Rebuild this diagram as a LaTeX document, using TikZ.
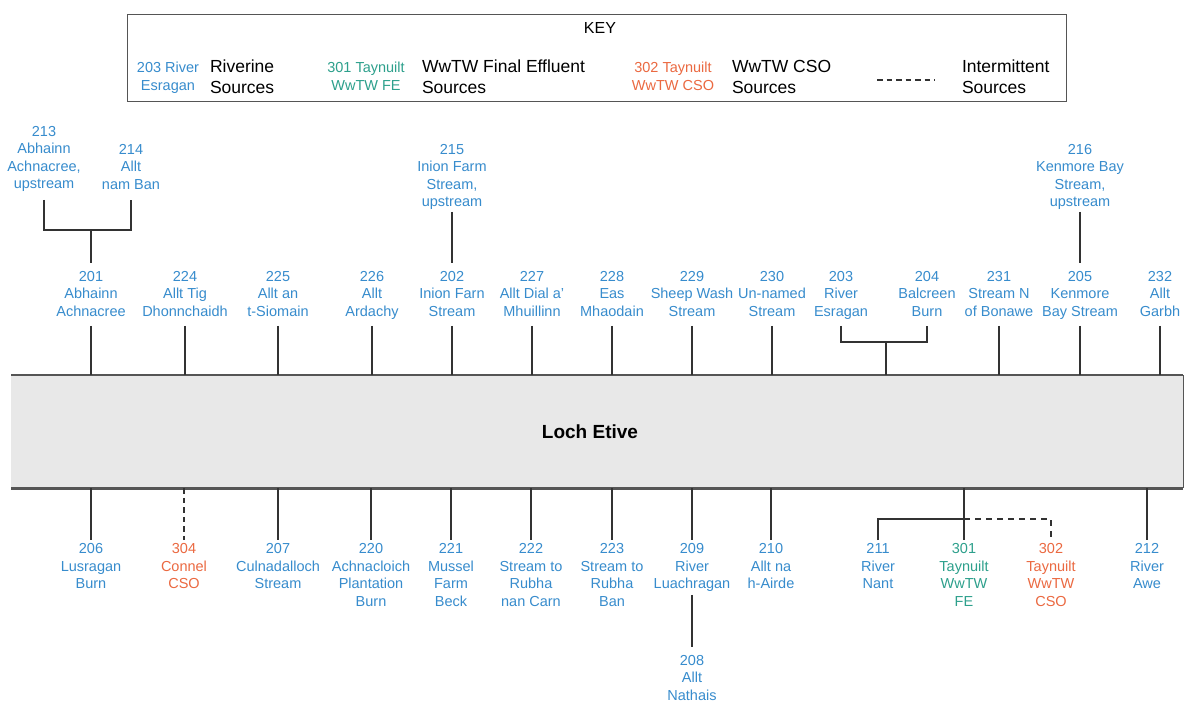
\documentclass[tikz,border=0pt]{standalone}
\usepackage{fontspec}
\setmainfont{Liberation Sans}
\definecolor{srcblue}{RGB}{55,140,205}
\definecolor{srcteal}{RGB}{45,160,140}
\definecolor{srcorange}{RGB}{235,105,65}
\definecolor{linegray}{RGB}{50,50,50}
\definecolor{lochfill}{RGB}{232,232,232}
\definecolor{lochedge}{RGB}{85,85,85}
\begin{document}
\begin{tikzpicture}[x=1pt,y=-1pt,
  lbl/.style={inner sep=0pt, outer sep=0pt, align=center, anchor=north, text=srcblue,
    font=\fontsize{14.5}{17.5}\selectfont,
    execute at begin node=\strut, execute at end node=\strut},
  cso/.style={lbl, text=srcorange},
  fe/.style={lbl, text=srcteal},
  keysrc/.style={inner sep=0pt, outer sep=0pt, align=center, anchor=north,
    font=\fontsize{14.5}{18}\selectfont,
    execute at begin node=\strut, execute at end node=\strut},
  keytxt/.style={inner sep=0pt, outer sep=0pt, align=left, anchor=north west, text=black,
    font=\fontsize{17.5}{21}\selectfont,
    execute at begin node=\strut, execute at end node=\strut},
  conn/.style={draw=linegray, line width=1.5pt},
  intermittent/.style={conn, dash pattern=on 5.5pt off 4pt},
]
\useasboundingbox[fill=white] (0,0) rectangle (1184,704);

% ---------------- KEY ----------------
\node[draw=lochedge, line width=1.3pt, minimum width=939pt, minimum height=87pt, inner sep=0pt,
  anchor=north west] (keybox) at (127,14) {};
\node[inner sep=0pt, font=\fontsize{16}{19}\selectfont] (keytitle) at (600,28) {KEY};
\node[keysrc, text=srcblue] (k203) at (168,62.4) {203 River\\Esragan};
\node[keytxt] (kriv) at (210,60.3) {Riverine\\Sources};
\node[keysrc, text=srcteal] (k301) at (366,62.4) {301 Taynuilt\\WwTW FE};
\node[keytxt] (kfe) at (422,60.3) {WwTW Final Effluent\\Sources};
\node[keysrc, text=srcorange] (k302) at (673,62.4) {302 Taynuilt\\WwTW CSO};
\node[keytxt] (kcso) at (732,60.3) {WwTW CSO\\Sources};
\coordinate (kdashA) at (877,80);
\coordinate (kdashB) at (935,80);
\draw[intermittent, line width=1.3pt] (kdashA) -- (kdashB);
\node[keytxt] (kint) at (962,60.3) {Intermittent\\Sources};

% ---------------- LOCH ----------------
\node[fill=lochfill, draw=none, inner sep=0pt, minimum width=1172pt, minimum height=113pt,
  anchor=north west] (loch) at (11,375) {};
\draw[draw=lochedge, line width=2.2pt] (loch.north west) -- (loch.north east);
\draw[draw=lochedge, line width=2.2pt] (loch.south west) -- (loch.south east);
\draw[draw=lochedge, line width=1pt] (loch.north east) -- (loch.south east);
\node[inner sep=0pt, font=\fontsize{19}{22}\selectfont\bfseries] (lochname) at (590,432) {Loch Etive};

% ---------------- TOP ROW ----------------
\node[lbl] (n201) at (91,271)   {201\\Abhainn\\Achnacree};
\node[lbl] (n224) at (185,271)  {224\\Allt Tig\\Dhonnchaidh};
\node[lbl] (n225) at (278,271)  {225\\Allt an\\t-Siomain};
\node[lbl] (n226) at (372,271)  {226\\Allt\\Ardachy};
\node[lbl] (n202) at (452,271)  {202\\Inion Farn\\Stream};
\node[lbl] (n227) at (532,271)  {227\\Allt Dial a'\\Mhuillinn};
\node[lbl] (n228) at (612,271)  {228\\Eas\\Mhaodain};
\node[lbl] (n229) at (692,271)  {229\\Sheep Wash\\Stream};
\node[lbl] (n230) at (772,271)  {230\\Un-named\\Stream};
\node[lbl] (n203) at (841,271)  {203\\River\\Esragan};
\node[lbl] (n204) at (927,271)  {204\\Balcreen\\Burn};
\node[lbl] (n231) at (999,271)  {231\\Stream N\\of Bonawe};
\node[lbl] (n205) at (1080,271) {205\\Kenmore\\Bay Stream};
\node[lbl] (n232) at (1160,271) {232\\Allt\\Garbh};

\foreach \n in {201,224,225,226,202,227,228,229,230,231,205,232}{
  \draw[conn, shorten <=4.5pt] (n\n.south) -- (n\n.south |- loch.north);
}
\coordinate (j34) at (886,342);
\draw[conn, shorten <=4.5pt, shorten >=4.5pt] (n203.south) -- (n203.south |- j34) -- (n204.south |- j34) -- (n204.south);
\draw[conn] (j34) -- (j34 |- loch.north);

% ---------------- UPSTREAM ROW ----------------
\node[lbl] (n213) at (44,126)   {213\\Abhainn\\Achnacree,\\upstream};
\node[lbl] (n214) at (131,144)  {214\\Allt\\nam Ban};
\node[lbl] (n215) at (452,144)  {215\\Inion Farm\\Stream,\\upstream};
\node[lbl] (n216) at (1080,144) {216\\Kenmore Bay\\Stream,\\upstream};

\coordinate (j1314) at (91,230);
\draw[conn, shorten <=6pt, shorten >=5.5pt] (n213.south) -- (n213.south |- j1314) -- (n214.south |- j1314) -- (n214.south);
\draw[conn, shorten >=8pt] (j1314) -- (n201.north);
\draw[conn, shorten >=8pt] (n215.south) -- (n202.north);
\draw[conn, shorten >=8pt] (n216.south) -- (n205.north);

% ---------------- BOTTOM ROW ----------------
\node[lbl] (n206) at (91,543.5)   {206\\Lusragan\\Burn};
\node[cso] (n304) at (184,543.5)  {304\\Connel\\CSO};
\node[lbl] (n207) at (278,543.5)  {207\\Culnadalloch\\Stream};
\node[lbl] (n220) at (371,543.5)  {220\\Achnacloich\\Plantation\\Burn};
\node[lbl] (n221) at (451,543.5)  {221\\Mussel\\Farm\\Beck};
\node[lbl] (n222) at (531,543.5)  {222\\Stream to\\Rubha\\nan Carn};
\node[lbl] (n223) at (612,543.5)  {223\\Stream to\\Rubha\\Ban};
\node[lbl] (n209) at (692,543.5)  {209\\River\\Luachragan};
\node[lbl] (n210) at (771,543.5)  {210\\Allt na\\h-Airde};
\node[lbl] (n211) at (878,543.5)  {211\\River\\Nant};
\node[fe]  (n301) at (964,543.5)  {301\\Taynuilt\\WwTW\\FE};
\node[cso] (n302) at (1051,543.5) {302\\Taynuilt\\WwTW\\CSO};
\node[lbl] (n212) at (1147,543.5) {212\\River\\Awe};
\node[lbl] (n208) at (692,655)    {208\\Allt\\Nathais};

\foreach \n in {206,207,220,221,222,223,209,210,301,212}{
  \draw[conn, shorten >=3.5pt] (loch.south -| n\n.north) -- (n\n.north);
}
\draw[intermittent, shorten >=3.5pt] (loch.south -| n304.north) -- (n304.north);
\draw[conn, shorten <=1pt, shorten >=8pt] (n209.south) -- (n208.north);

\coordinate (jb) at (964,519);
\draw[conn, shorten <=3.5pt] (n211.north) -- (n211.north |- jb) -- (jb);
\draw[intermittent, dash pattern=on 6pt off 5pt, shorten >=3.5pt] (jb) -| (n302.north);
\end{tikzpicture}
\end{document}
